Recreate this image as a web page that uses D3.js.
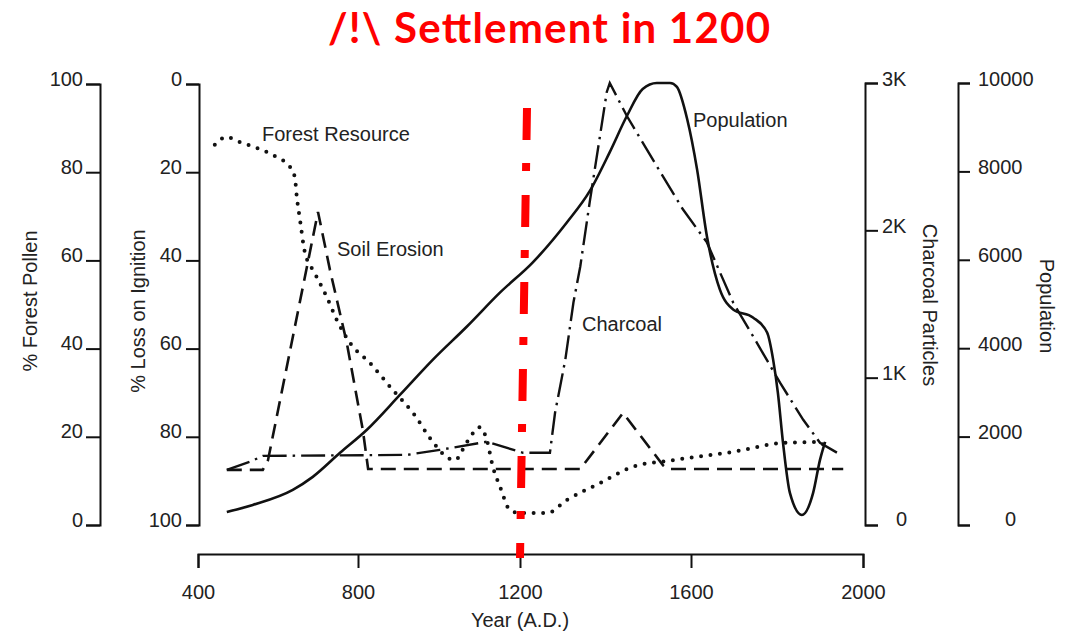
<!DOCTYPE html>
<html>
<head>
<meta charset="utf-8">
<script src="https://cdn.jsdelivr.net/npm/d3@7"></script>
<style>
  html, body { margin: 0; padding: 0; background: #fff; }
  svg { display: block; }
  .axis path, .axis line { stroke: #111; stroke-width: 2; }
  .axis text { font-family: "Liberation Sans", Arial, sans-serif; font-size: 20px; fill: #222; }
  .lbl { font-family: "Liberation Sans", Arial, sans-serif; font-size: 20px; fill: #222; }
</style>
</head>
<body>
<svg id="chart" width="1068" height="632"></svg>
<script>
// ---------------- data ----------------
const yearTicks = [400, 800, 1200, 1600, 2000];
const pollenTicks = [0, 20, 40, 60, 80, 100];
const loiTicks = [0, 20, 40, 60, 80, 100];
const charcoalTicks = [0, 1000, 2000, 3000];
const populationTicks = [0, 2000, 4000, 6000, 8000, 10000];

// Population (solid) : [year, people]
const populationData = [
  [472, 295], [537, 454], [637, 794], [687, 1089], [755, 1633], [822, 2155],
  [904, 2948], [985, 3742], [1069, 4491], [1151, 5262], [1230, 5942],
  [1310, 6849], [1363, 7552], [1410, 8437], [1450, 9253], [1487, 9866],
  [1520, 10000], [1551, 10000], [1567, 9911], [1591, 9185], [1614, 8051],
  [1637, 6532], [1667, 5330], [1698, 4876], [1744, 4695], [1777, 4355],
  [1791, 3742], [1802, 2994], [1814, 1860], [1830, 726], [1858, 227],
  [1884, 726], [1900, 1474], [1912, 1882]
];

// Charcoal particles (dash-dot) : [year, particles]
const charcoalData = [
  [472, 374], [530, 429], [562, 469], [921, 476], [1002, 510], [1118, 565],
  [1207, 490], [1270, 490], [1282, 762], [1306, 1122], [1325, 1510],
  [1341, 1755], [1363, 2190], [1387, 2639], [1403, 2939], [1410, 3000],
  [1450, 2776], [1520, 2435], [1581, 2143], [1637, 1918], [1698, 1510],
  [1753, 1238], [1807, 966], [1861, 714], [1900, 558], [1940, 490]
];

// Soil erosion (dashed) : [year, % loss on ignition]
const soilErosionData = [
  [472, 87.5], [562, 87.5], [575, 85.3], [700, 29.0], [730, 42.2],
  [772, 58.7], [812, 78.5], [825, 87.3], [1341, 87.3], [1441, 74.6],
  [1535, 86.5], [1546, 87.3], [1954, 87.3]
];

// Forest resource (dotted) : [year, % forest pollen]
const forestData = [
  [442, 86.2], [472, 88.0], [497, 87.1], [547, 85.5], [597, 83.4],
  [630, 81.2], [642, 78.9], [647, 74.4], [655, 69.2], [667, 61.9],
  [692, 57.1], [722, 51.7], [747, 46.5], [780, 41.3], [830, 36.7],
  [886, 30.6], [936, 25.4], [985, 18.8], [1022, 15.2], [1039, 14.7],
  [1069, 18.8], [1101, 22.2], [1118, 19.3], [1133, 13.2], [1151, 8.6],
  [1175, 3.4], [1200, 2.7], [1263, 2.7], [1310, 5.7], [1387, 9.5],
  [1464, 13.2], [1558, 14.7], [1698, 16.6], [1814, 18.6], [1893, 18.8],
  [1923, 17.0]
];

const settlementYear = 1200;
const titleText = "/!\\ Settlement in 1200";

// ---------------- scales ----------------
const svg = d3.select("#chart");

const x = d3.scaleLinear().domain(yearTicks).range([198, 358, 520, 691, 863]);
const yPollen = d3.scaleLinear().domain([0, 100]).range([525, 84]);
const yLoi = d3.scaleLinear().domain([0, 100]).range([84, 525]);
const yChar = d3.scaleLinear().domain([0, 3000]).range([525, 83]);
const yPop = d3.scaleLinear().domain([0, 10000]).range([525, 83]);

// ---------------- axes ----------------
const gPollen = svg.append("g").attr("class", "axis")
  .attr("transform", "translate(100,0)")
  .call(d3.axisLeft(yPollen).tickValues(pollenTicks).tickSize(14).tickPadding(3));
gPollen.selectAll("text").attr("dy", "0.05em");

const gLoi = svg.append("g").attr("class", "axis")
  .attr("transform", "translate(199,0)")
  .call(d3.axisLeft(yLoi).tickValues(loiTicks).tickSize(13).tickPadding(4));
gLoi.selectAll("text").attr("dy", "0.05em");

const gChar = svg.append("g").attr("class", "axis")
  .attr("transform", "translate(865,0)")
  .call(d3.axisRight(yChar).tickValues(charcoalTicks).tickSize(13).tickPadding(4)
    .tickFormat(d => d === 0 ? "0" : (d / 1000) + "K"));
gChar.selectAll("text").attr("dy", "0.1em")
  .filter(d => d === 0).attr("x", 31).attr("dy", "0");

const gPop = svg.append("g").attr("class", "axis")
  .attr("transform", "translate(958,0)")
  .call(d3.axisRight(yPop).tickValues(populationTicks).tickSize(12).tickPadding(8)
    .tickFormat(d3.format("d")));
gPop.selectAll("text").attr("dy", "0.1em")
  .filter(d => d === 0).attr("x", 47).attr("dy", "0");

const gX = svg.append("g").attr("class", "axis")
  .attr("transform", "translate(0,554)")
  .call(d3.axisBottom(x).tickValues(yearTicks).tickSize(14).tickPadding(17)
    .tickFormat(d3.format("d")));

// axis titles
svg.append("text").attr("class", "lbl").attr("text-anchor", "middle")
  .attr("transform", "translate(37,301) rotate(-90)").text("% Forest Pollen");
svg.append("text").attr("class", "lbl").attr("text-anchor", "middle")
  .attr("transform", "translate(145,311) rotate(-90)").text("% Loss on Ignition");
svg.append("text").attr("class", "lbl").attr("text-anchor", "middle")
  .attr("transform", "translate(923,305) rotate(90)").text("Charcoal Particles");
svg.append("text").attr("class", "lbl").attr("text-anchor", "middle")
  .attr("transform", "translate(1040,306) rotate(90)").text("Population");
svg.append("text").attr("class", "lbl").attr("text-anchor", "middle")
  .attr("x", x(settlementYear)).attr("y", 627).text("Year (A.D.)");

// ---------------- series ----------------
const linePop = d3.line().x(d => x(d[0])).y(d => yPop(d[1])).curve(d3.curveMonotoneX);
const lineChar = d3.line().x(d => x(d[0])).y(d => yChar(d[1]));
const lineSoil = d3.line().x(d => x(d[0])).y(d => yLoi(d[1]));
const lineForest = d3.line().x(d => x(d[0])).y(d => yPollen(d[1])).curve(d3.curveMonotoneX);

svg.append("path").datum(soilErosionData).attr("d", lineSoil)
  .attr("fill", "none").attr("stroke", "#111").attr("stroke-width", 2.6)
  .attr("stroke-dasharray", "15,8");

svg.append("path").datum(charcoalData).attr("d", lineChar)
  .attr("fill", "none").attr("stroke", "#111").attr("stroke-width", 2.4)
  .attr("stroke-dasharray", "24,6,2.5,6");

svg.append("path").datum(forestData).attr("d", lineForest)
  .attr("fill", "none").attr("stroke", "#111").attr("stroke-width", 4)
  .attr("stroke-linecap", "round").attr("stroke-dasharray", "0,9.5");

svg.append("path").datum(populationData).attr("d", linePop)
  .attr("fill", "none").attr("stroke", "#111").attr("stroke-width", 2.6);

// series labels
svg.append("text").attr("class", "lbl").attr("x", 262).attr("y", 141).text("Forest Resource");
svg.append("text").attr("class", "lbl").attr("x", 337).attr("y", 256).text("Soil Erosion");
svg.append("text").attr("class", "lbl").attr("x", 582).attr("y", 331).text("Charcoal");
svg.append("text").attr("class", "lbl").attr("x", 693).attr("y", 127).text("Population");

// ---------------- settlement annotation ----------------
svg.append("line")
  .attr("x1", x(settlementYear) + 7).attr("y1", 108)
  .attr("x2", x(settlementYear)).attr("y2", 558)
  .attr("stroke", "#ff0000").attr("stroke-width", 8)
  .attr("stroke-dasharray", "32,23,8,24");

svg.append("text")
  .attr("x", 549).attr("y", 43).attr("text-anchor", "middle")
  .attr("font-family", "Lato, 'Open Sans', sans-serif").attr("font-weight", 700)
  .attr("font-size", 42).attr("fill", "#ff0000")
  .attr("textLength", 442).attr("lengthAdjust", "spacing")
  .text(titleText);
</script>
</body>
</html>
